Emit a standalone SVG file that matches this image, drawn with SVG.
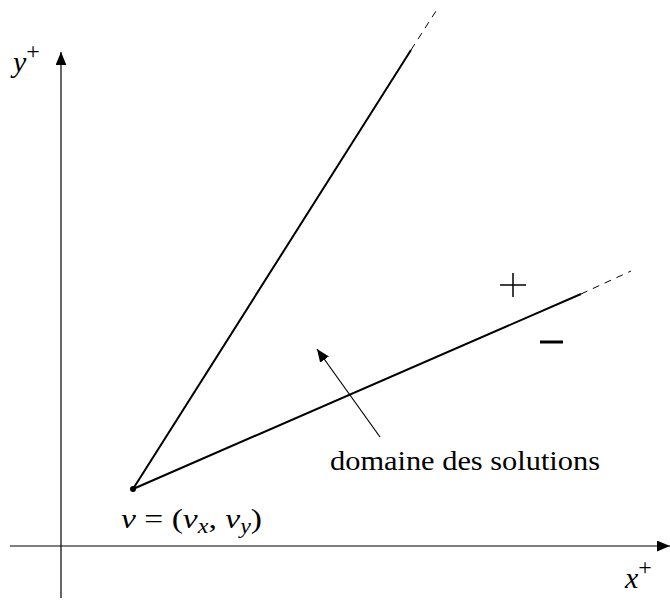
<svg xmlns="http://www.w3.org/2000/svg" width="670" height="601" viewBox="0 0 670 601">
<style>
.ax{stroke:#000;stroke-width:1.2;fill:none}
.ln{stroke:#000;stroke-width:2;fill:none}
.ds{stroke:#000;stroke-width:1;fill:none;stroke-dasharray:7,6}
.t{font-family:"Liberation Serif",serif;font-size:28px;fill:#000}
.m{font-style:italic}
</style>
<defs>
<marker id="ah2" viewBox="0 0 12 10" refX="12" refY="5" markerWidth="13" markerHeight="11" markerUnits="userSpaceOnUse" orient="auto">
<path d="M0,0 L12,5 L0,10 z" fill="#000"/>
</marker>
</defs>
<g id="connectors">
<line class="ax" x1="61" y1="598" x2="61" y2="52" marker-end="url(#ah2)"/>
<line class="ax" x1="10" y1="546" x2="670" y2="546" marker-end="url(#ah2)"/>
<line class="ln" x1="133" y1="489" x2="411" y2="50"/>
<line class="ds" x1="411" y1="50" x2="436" y2="11"/>
<line class="ln" x1="133" y1="489" x2="581" y2="294"/>
<line class="ds" x1="581" y1="294" x2="631" y2="271"/>
<line class="ax" x1="380" y1="437" x2="317" y2="349" marker-end="url(#ah2)"/>
</g>
<g id="point-v">
<circle cx="133" cy="489" r="3" fill="#000"/>
<text class="t" x="121" y="528" textLength="141" lengthAdjust="spacingAndGlyphs"><tspan class="m">v</tspan> = (<tspan class="m">v</tspan><tspan class="m" font-size="20" dy="5">x</tspan><tspan dy="-5">, </tspan><tspan class="m">v</tspan><tspan class="m" font-size="20" dy="5">y</tspan><tspan dy="-5">)</tspan></text>
</g>
<g id="labels">
<text class="t" x="13" y="72"><tspan class="m" font-size="30">y</tspan><tspan font-size="24" dy="-13">+</tspan></text>
<text class="t" x="625" y="588"><tspan class="m" font-size="30">x</tspan><tspan font-size="24" dy="-13">+</tspan></text>
<text class="t" x="330" y="470" font-size="26" textLength="270" lengthAdjust="spacingAndGlyphs">domaine des solutions</text>
<path d="M500,285 H526 M513,273 V297" stroke="#000" stroke-width="1.5"/>
<line x1="540" y1="342" x2="563" y2="342" stroke="#000" stroke-width="3"/>
</g>
</svg>
